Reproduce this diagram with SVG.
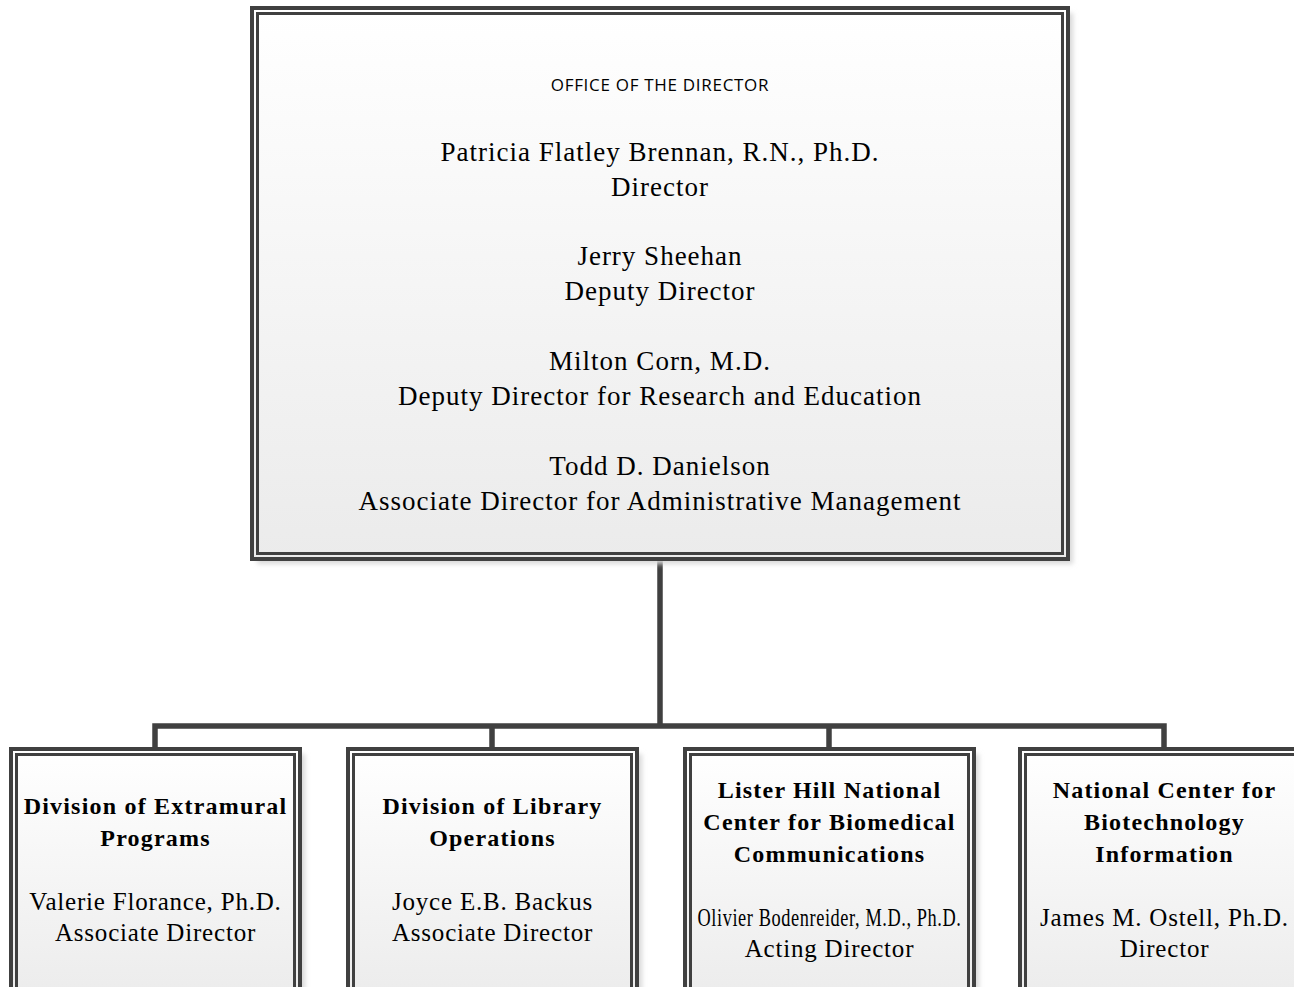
<svg xmlns="http://www.w3.org/2000/svg" width="1294" height="987" viewBox="0 0 1294 987">
<defs>
<linearGradient id="g" x1="0" y1="0" x2="0" y2="1">
<stop offset="0" stop-color="#ffffff"/>
<stop offset="1" stop-color="#ebebeb"/>
</linearGradient>
<filter id="sh" x="-10%" y="-10%" width="120%" height="120%">
<feGaussianBlur stdDeviation="2.5"/>
</filter>
</defs>
<style>
.shadow{fill:#d8d8d8;filter:url(#sh)}
.outer{fill:url(#g);stroke:#404040;stroke-width:4}
.inner{fill:none;stroke:#404040;stroke-width:3}
.conn{fill:none;stroke:#404040;stroke-width:5.5}
.sans{font-family:"Open Sans","Liberation Sans",sans-serif;font-size:17px;fill:#000;text-anchor:middle;letter-spacing:0.7px}
.serif{font-family:"Liberation Serif","Times New Roman",serif;font-size:27px;fill:#000;text-anchor:middle;letter-spacing:1px}
.title{font-family:"Liberation Serif","Times New Roman",serif;font-size:24px;font-weight:bold;fill:#000;text-anchor:middle;letter-spacing:1.2px}
.name{font-family:"Liberation Serif","Times New Roman",serif;font-size:25px;fill:#000;text-anchor:middle;letter-spacing:0.8px}
</style>
<rect width="1294" height="987" fill="#fff"/>
<g id="connectors">
<path class="conn" d="M660 561 V726 M155 749 V726 H1164 V749 M492 726 V749 M829 726 V749"/>
</g>
<g id="director">
<rect class="shadow" x="257" y="13" width="816" height="551"/>
<rect class="outer" x="252" y="8" width="816" height="551"/>
<rect class="inner" x="257.5" y="13.5" width="805" height="540"/>
<text class="sans" x="660" y="91">OFFICE OF THE DIRECTOR</text>
<text class="serif" x="660" y="161">Patricia Flatley Brennan, R.N., Ph.D.</text>
<text class="serif" x="660" y="196">Director</text>
<text class="serif" x="660" y="265">Jerry Sheehan</text>
<text class="serif" x="660" y="300">Deputy Director</text>
<text class="serif" x="660" y="370">Milton Corn, M.D.</text>
<text class="serif" x="660" y="405">Deputy Director for Research and Education</text>
<text class="serif" x="660" y="475">Todd D. Danielson</text>
<text class="serif" x="660" y="510">Associate Director for Administrative Management</text>
</g>
<g id="extramural">
<rect class="shadow" x="16" y="754" width="289" height="260"/>
<rect class="outer" x="11" y="749" width="289" height="260"/>
<rect class="inner" x="16.5" y="754.5" width="278" height="250"/>
<text class="title" x="155.5" y="814">Division of Extramural</text>
<text class="title" x="155.5" y="846">Programs</text>
<text class="name" x="155.5" y="910">Valerie Florance, Ph.D.</text>
<text class="name" x="155.5" y="941">Associate Director</text>
</g>
<g id="library">
<rect class="shadow" x="353" y="754" width="289" height="260"/>
<rect class="outer" x="348" y="749" width="289" height="260"/>
<rect class="inner" x="353.5" y="754.5" width="278" height="250"/>
<text class="title" x="492.5" y="814">Division of Library</text>
<text class="title" x="492.5" y="846">Operations</text>
<text class="name" x="492.5" y="910">Joyce E.B. Backus</text>
<text class="name" x="492.5" y="941">Associate Director</text>
</g>
<g id="lister-hill">
<rect class="shadow" x="690" y="754" width="289" height="260"/>
<rect class="outer" x="685" y="749" width="289" height="260"/>
<rect class="inner" x="690.5" y="754.5" width="278" height="250"/>
<text class="title" x="829.5" y="798">Lister Hill National</text>
<text class="title" x="829.5" y="830">Center for Biomedical</text>
<text class="title" x="829.5" y="862">Communications</text>
<text class="name" x="829.5" y="926" textLength="264" lengthAdjust="spacingAndGlyphs" letter-spacing="0">Olivier Bodenreider, M.D., Ph.D.</text>
<text class="name" x="829.5" y="957">Acting Director</text>
</g>
<g id="ncbi">
<rect class="shadow" x="1025" y="754" width="289" height="260"/>
<rect class="outer" x="1020" y="749" width="289" height="260"/>
<rect class="inner" x="1025.5" y="754.5" width="278" height="250"/>
<text class="title" x="1164.5" y="798">National Center for</text>
<text class="title" x="1164.5" y="830">Biotechnology</text>
<text class="title" x="1164.5" y="862">Information</text>
<text class="name" x="1164.5" y="926">James M. Ostell, Ph.D.</text>
<text class="name" x="1164.5" y="957">Director</text>
</g>
</svg>
